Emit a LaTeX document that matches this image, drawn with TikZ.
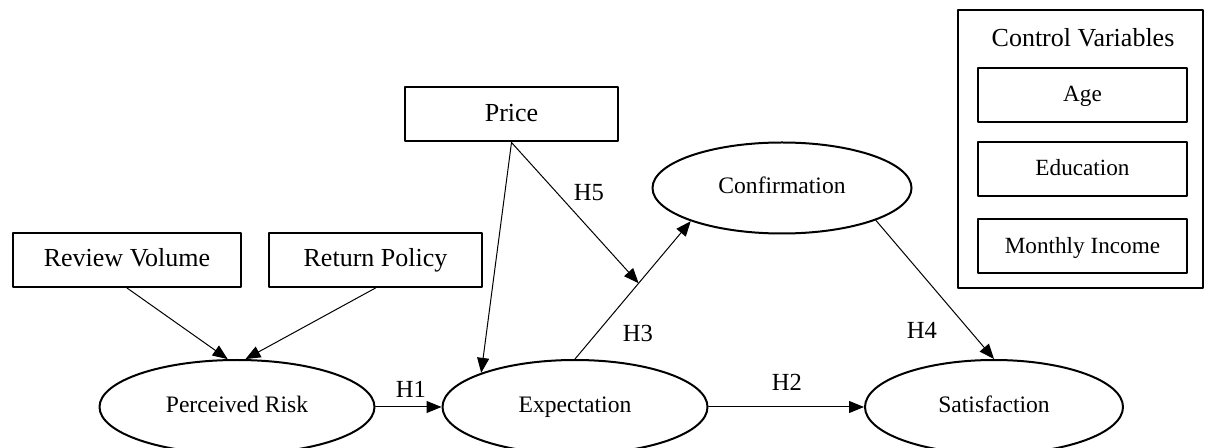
\documentclass[tikz,border=0pt]{standalone}
\usepackage{fontspec}
\setmainfont{Liberation Serif}
\usetikzlibrary{arrows.meta,shapes.geometric}

\tikzset{
  box/.style={draw,line width=1pt,minimum height=27pt,inner sep=0pt,text height=0.9em,text depth=0.2em,font=\fontsize{13}{15}\selectfont},
  ctrl/.style={draw,line width=1pt,minimum width=104.5pt,minimum height=27pt,inner sep=0pt,text height=0.9em,text depth=0.2em,font=\fontsize{11.6}{14}\selectfont},
  latent/.style={ellipse,draw,line width=1pt,minimum height=47pt,inner sep=0pt,text height=0.77em,text depth=0.22em,font=\fontsize{11.8}{14}\selectfont},
  hyp/.style={font=\fontsize{12.3}{14}\selectfont},
  path/.style={->,line width=0.5pt}
}

\begin{document}
\begin{tikzpicture}[line cap=round,line join=round,>={Triangle[length=7.5pt,width=6pt]},x=0.5pt,y=-0.5pt]
  \useasboundingbox (0,0) rectangle (1215,448);
  % observed variables
  \node[box,minimum width=114pt] (review) at (127,260) {Review Volume};
  \node[box,minimum width=106.5pt] (return) at (375.5,260) {Return Policy};
  \node[box,minimum width=106.5pt] (price) at (511.5,114.5) {Price};
  % latent variables
  \node[latent,minimum width=137.5pt] (risk) at (237,407) {Perceived Risk};
  \node[latent,minimum width=132.5pt] (expect) at (575,407) {Expectation};
  \node[latent,minimum width=129.5pt,minimum height=45.5pt] (confirm) at (782,188) {Confirmation};
  \node[latent,minimum width=129pt] (satisf) at (994,407) {Satisfaction};
  % control variables
  \node[draw,line width=1pt,minimum width=122.5pt,minimum height=139pt,inner sep=0pt] (control) at (1080.5,149) {};
  \node[font=\fontsize{13}{15}\selectfont] (ctitle) at (1083,38) {Control Variables};
  \node[ctrl] (age) at (1082.5,95) {Age};
  \node[ctrl] (edu) at (1082.5,169) {Education};
  \node[ctrl] (income) at (1082.5,246.5) {Monthly Income};
  % paths
  \draw[path] (review.south) -- (risk.101);
  \draw[path] (return.south) -- (risk.80);
  \draw[path] (risk.east) -- (expect.west);
  \draw[path] (price.south) -- (expect.160);
  \draw[path] (expect.north) -- coordinate[pos=0.55] (moder) (confirm.200);
  \draw[path] (price.south) -- (moder);
  \draw[path] (expect.east) -- (satisf.west);
  \draw[path] (confirm.341) -- (satisf.north);
  % hypotheses
  \node[hyp] (h1) at (411,389) {H1};
  \node[hyp] (h2) at (787,382) {H2};
  \node[hyp] (h3) at (638,333) {H3};
  \node[hyp] (h4) at (922,330) {H4};
  \node[hyp] (h5) at (589,193) {H5};
\end{tikzpicture}
\end{document}
